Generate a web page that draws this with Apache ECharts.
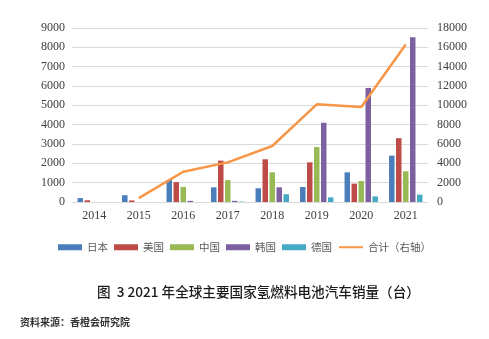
<!DOCTYPE html>
<html><head><meta charset="utf-8">
<script src="https://cdn.jsdelivr.net/npm/echarts@6/dist/echarts.min.js"></script>
<style>html,body{margin:0;padding:0;background:#fff}#c{width:489px;height:339px}</style>
</head><body><div id="c"></div>
<script>
const categories = ['2014','2015','2016','2017','2018','2019','2020','2021'];
const japan   = [200, 350, 1140, 760, 710, 775, 1535, 2400];
const usa     = [90, 80, 1030, 2140, 2210, 2050, 950, 3300];
const china   = [0, 0, 780, 1130, 1535, 2845, 1085, 1590];
const korea   = [0, 0, 60, 60, 760, 4100, 5900, 8520];
const germany = [0, 0, 0, 20, 400, 240, 290, 380];
const total   = [null, 400, 3130, 4100, 5790, 10100, 9830, 16300];
const seriesNames = ['日本','美国','中国','韩国','德国','合计（右轴）'];
const leftTicks = {min:0, max:9000, interval:1000};
const rightTicks = {min:0, max:18000, interval:2000};
const titleText = '图  3 2021 年全球主要国家氢燃料电池汽车销量（台）';
const sourceText = '资料来源：香橙会研究院';

const colors = ['#4a7ebb','#be4b48','#98b954','#7d60a0','#46aac5','#f79646'];
const cjk = '"Noto Sans CJK SC", "Noto Sans", sans-serif';
const serif = '"Liberation Serif", "DejaVu Serif", serif';

const barData = [japan, usa, china, korea, germany];
const series = barData.map((d, i) => ({
  name: seriesNames[i], type: 'bar', data: d, yAxisIndex: 0,
  barWidth: 5.5, barGap: '27%',
  itemStyle: {color: colors[i]}
}));
series.push({
  name: seriesNames[5], type: 'line', data: total, yAxisIndex: 1,
  symbol: 'none', connectNulls: false,
  lineStyle: {color: colors[5], width: 2.5}, itemStyle: {color: colors[5]}
});

const chart = echarts.init(document.getElementById('c'), null, {renderer:'canvas'});
chart.setOption({
  animation: false,
  backgroundColor: '#fff',
  grid: {left: 72, right: 61, top: 28, bottom: 137, containLabel: false},
  title: [
    {text: titleText, left: 92, top: 280,
     textStyle: {fontFamily: cjk, fontSize: 13.6, fontWeight: 500, color: '#1a1a1a'}},
    {text: sourceText, left: 15, top: 312,
     textStyle: {fontFamily: cjk, fontSize: 10, fontWeight: 'bold', color: '#333'}}
  ],
  legend: {
    data: seriesNames.map((n, i) => i < 5 ? {name: n, icon: 'rect'} : {name: n, itemStyle: {opacity: 0}}),
    left: 'center', top: 237, itemWidth: 24, itemHeight: 6, itemGap: 6,
    textStyle: {fontFamily: cjk, fontSize: 10.5, color: '#595959'}
  },
  xAxis: {
    type: 'category', data: categories,
    axisLine: {show: true, lineStyle: {color: '#d9d9d9', width: 1}},
    axisTick: {show: false},
    axisLabel: {fontFamily: serif, fontSize: 12, color: '#404040', margin: 8}
  },
  yAxis: [
    {type: 'value', min: leftTicks.min, max: leftTicks.max, interval: leftTicks.interval,
     axisLine: {show: false}, axisTick: {show: false},
     splitLine: {lineStyle: {color: '#d9d9d9', width: 1}},
     axisLabel: {fontFamily: serif, fontSize: 12, color: '#404040', margin: 7, formatter: v => String(v)}},
    {type: 'value', min: rightTicks.min, max: rightTicks.max, interval: rightTicks.interval,
     axisLine: {show: false}, axisTick: {show: false}, splitLine: {show: false},
     axisLabel: {fontFamily: serif, fontSize: 12, color: '#404040', margin: 9, formatter: v => String(v)}}
  ],
  series: series
});
</script></body></html>
